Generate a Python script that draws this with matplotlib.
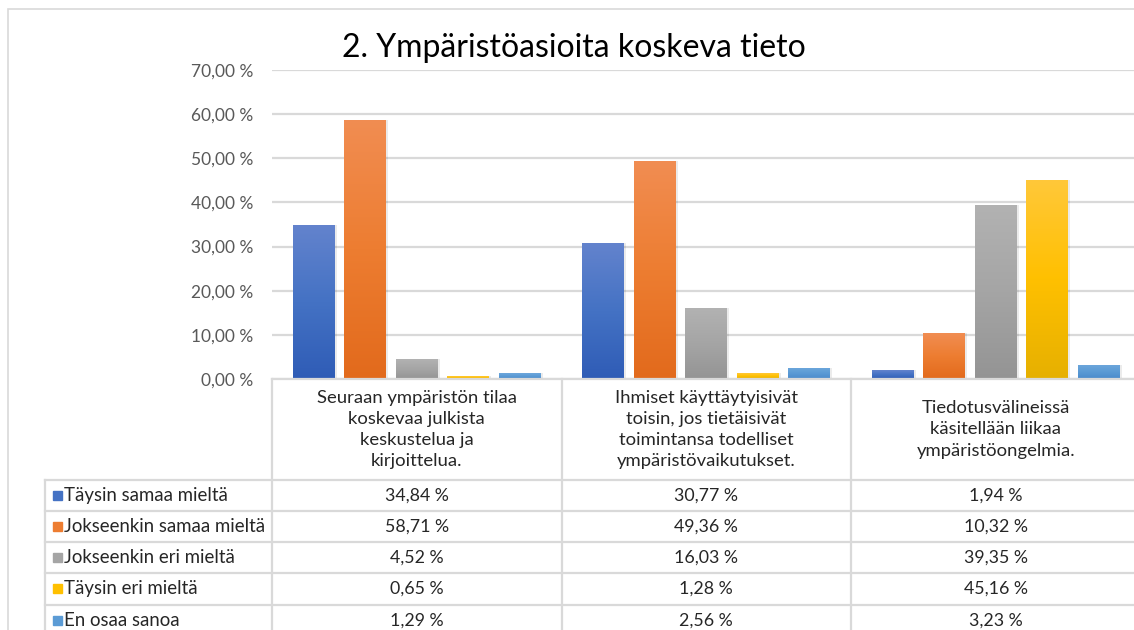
import matplotlib
matplotlib.use("Agg")
import matplotlib.pyplot as plt
import numpy as np
from matplotlib.colors import LinearSegmentedColormap
from matplotlib.transforms import blended_transform_factory

plt.rcParams['font.family'] = ['Lato', 'DejaVu Sans']

title = "2. Ympäristöasioita koskeva tieto"
categories = [
    "Seuraan ympäristön tilaa\nkoskevaa julkista\nkeskustelua ja\nkirjoittelua.",
    "Ihmiset käyttäytyisivät\ntoisin, jos tietäisivät\ntoimintansa todelliset\nympäristövaikutukset.",
    "Tiedotusvälineissä\nkäsitellään liikaa\nympäristöongelmia.",
]
series_names = ["Täysin samaa mieltä", "Jokseenkin samaa mieltä",
                "Jokseenkin eri mieltä", "Täysin eri mieltä", "En osaa sanoa"]
taysin_samaa = [34.84, 30.77, 1.94]
jokseenkin_samaa = [58.71, 49.36, 10.32]
jokseenkin_eri = [4.52, 16.03, 39.35]
taysin_eri = [0.65, 1.28, 45.16]
en_osaa = [1.29, 2.56, 3.23]
series_values = [taysin_samaa, jokseenkin_samaa, jokseenkin_eri, taysin_eri, en_osaa]
y_ticks = [0, 10, 20, 30, 40, 50, 60, 70]
y_tick_labels = ["0,00 %", "10,00 %", "20,00 %", "30,00 %", "40,00 %",
                 "50,00 %", "60,00 %", "70,00 %"]

colors = ["#4472C4", "#ED7D31", "#A5A5A5", "#FFC000", "#5B9BD5"]
# gradient stops (bottom, middle, top)
gradients = [
    ["#2F5CB6", "#4472C4", "#6383CD"],
    ["#E26A1C", "#ED7D31", "#F18D52"],
    ["#949494", "#A5A5A5", "#B2B2B2"],
    ["#E6B000", "#FFC000", "#FFC83A"],
    ["#4A8ACB", "#5B9BD5", "#6EA7DC"],
]

W, H = 1134, 630
fig = plt.figure(figsize=(W / 100, H / 100), dpi=100)

def fx(px):
    return px / W

def fy(py):
    return 1 - py / H

ax_left, ax_top, ax_bottom = 272, 70, 379
group_w = 289.5
ax = fig.add_axes([fx(ax_left), fy(ax_bottom), 3 * group_w / W, (ax_bottom - ax_top) / H])

# outer chart frame
fig.patches.append(plt.Rectangle((fx(8), fy(640)), 1.2, fy(9) - fy(640),
                                 transform=fig.transFigure, fill=False,
                                 edgecolor="#D9D9D9", linewidth=1.2))

x = np.arange(len(categories))
step = 51.5 / group_w
bw = 42 / group_w
grad = np.linspace(0, 1, 256).reshape(-1, 1)

for i, (vals, c, g) in enumerate(zip(series_values, colors, gradients)):
    offs = (i - 2) * step
    bars = ax.bar(x + offs, vals, width=bw, color=c, zorder=3, linewidth=0)
    cmap = LinearSegmentedColormap.from_list("g%d" % i, g)
    for b in bars:
        x0, y0 = b.get_x(), b.get_y()
        x1, y1 = x0 + b.get_width(), y0 + b.get_height()
        # soft shadow
        ax.bar(b.get_x() + b.get_width() / 2 + 0.004, b.get_height(), width=b.get_width() + 0.006,
               bottom=0, color="#000000", alpha=0.08, zorder=2, linewidth=0)
        im = ax.imshow(grad, extent=[x0, x1, y0, y1], origin="lower", aspect="auto",
                       cmap=cmap, zorder=4, interpolation="bilinear")
        im.set_clip_path(b)

ax.set_xlim(-0.5, 2.5)
ax.set_ylim(0, 70)
ax.set_yticks(y_ticks)
ax.set_yticklabels(y_tick_labels, fontsize=12.5, color="#595959")
ax.tick_params(axis="y", length=0, pad=13.5)
ax.set_xticks([])
ax.grid(axis="y", color="#D9D9D9", linewidth=1.6, zorder=0)
ax.set_axisbelow(True)
for s in ax.spines.values():
    s.set_visible(False)

fig.text(0.506, fy(48), title, ha="center", va="center", fontsize=23, color="#000000")

# ---- data table ----
line_c = "#D9D9D9"
lw = 1.6
row_lines = [480, 511, 542, 573, 605]
row_h = 31.3
bt = blended_transform_factory(ax.transData, fig.transFigure)

fig.add_artist(plt.Line2D([fx(272), 1.0], [fy(379), fy(379)], color=line_c, lw=lw,
                          transform=fig.transFigure))
for yl in row_lines:
    fig.add_artist(plt.Line2D([fx(45), 1.0], [fy(yl), fy(yl)], color=line_c, lw=lw,
                              transform=fig.transFigure))
fig.add_artist(plt.Line2D([fx(45), fx(45)], [fy(480), 0], color=line_c, lw=lw,
                          transform=fig.transFigure))
for xb in [-0.5, 0.5, 1.5, 2.5]:
    fig.add_artist(plt.Line2D([xb, xb], [fy(379), 0], color=line_c, lw=lw, transform=bt))

for j, cat in enumerate(categories):
    fig.text(j, fy(429.5), cat, transform=bt, ha="center", va="center",
             fontsize=13.3, color="#262626", linespacing=1.4)

for i, (name, vals, c) in enumerate(zip(series_names, series_values, colors)):
    yc = row_lines[i] + row_h / 2
    fig.patches.append(plt.Rectangle((fx(53), fy(yc + 4.5)), fx(9), 9 / H,
                                     transform=fig.transFigure, color=c))
    fig.text(fx(64), fy(yc), name, ha="left", va="center", fontsize=13.4, color="#262626")
    for j, v in enumerate(vals):
        fig.text(j, fy(yc), ("%.2f" % v).replace(".", ",") + " %", transform=bt,
                 ha="center", va="center", fontsize=12.8, color="#262626")

fig.savefig("out.png", dpi=100, facecolor="white")
